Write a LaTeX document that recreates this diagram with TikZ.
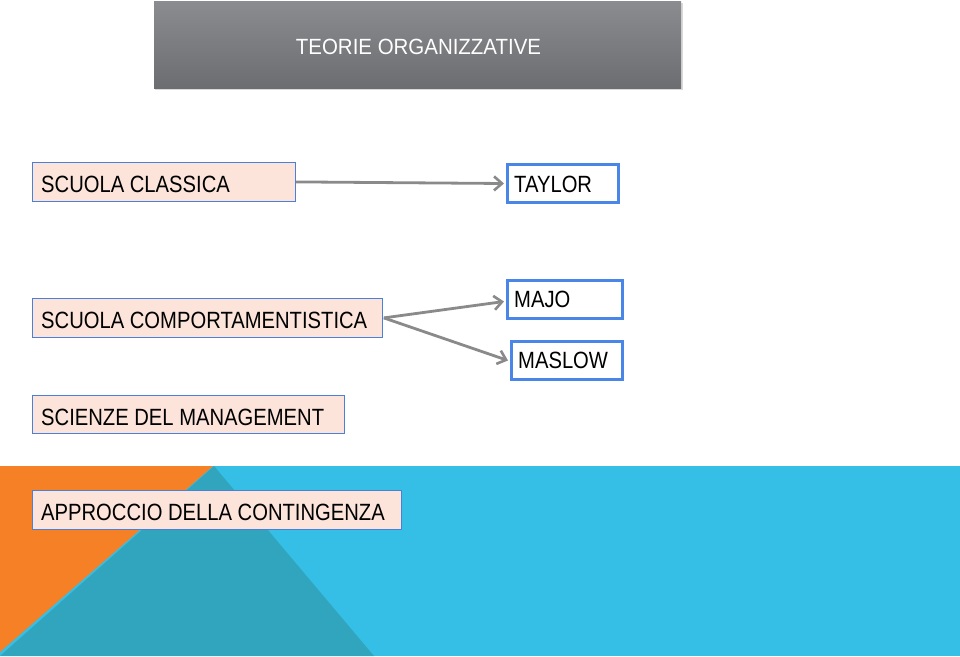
\documentclass[tikz,border=0pt]{standalone}
\usepackage{fontspec}
\setmainfont{Liberation Sans}
\newfontfamily\boxfont[FakeStretch=0.86]{Liberation Sans}
\newfontfamily\titlefont[FakeStretch=0.93]{Liberation Sans}
\usetikzlibrary{arrows.meta}
\definecolor{peach}{HTML}{FCE4DA}
\definecolor{bordblue}{HTML}{4A80D9}
\definecolor{thickblue}{HTML}{4A86E8}
\definecolor{arrgray}{HTML}{8A8A8A}
\definecolor{orangebg}{HTML}{F58025}
\definecolor{tealbg}{HTML}{31A5BD}
\definecolor{lightbg}{HTML}{35BFE6}
\definecolor{titletop}{HTML}{8B8C90}
\definecolor{titlebot}{HTML}{6C6D71}
\begin{document}
\begin{tikzpicture}[x=1pt,y=-1pt,
  school/.style={draw=bordblue,line width=0.8pt,fill=peach,anchor=north west,inner sep=0pt},
  author/.style={draw=thickblue,line width=3pt,fill=white,anchor=north west,inner sep=0pt},
  lbl/.style={anchor=base west,inner sep=0pt,font=\boxfont\fontsize{23.5}{27}\selectfont},
  conn/.style={draw=arrgray,line width=2.8pt,-{Straight Barb[length=8pt,width=14pt,line width=2.6pt]}}]
\useasboundingbox (0,0) rectangle (960,656);
% background
\fill[lightbg] (0,466) rectangle (960,656);
\fill[tealbg] (214,466) -- (374,656) -- (0,656) -- cycle;
\fill[orangebg] (0,466) -- (213,466) -- (0,652) -- cycle;
% title
\fill[black!25,opacity=0.6] (155,3) rectangle (683,90);
\shade[top color=titletop,bottom color=titlebot] (154,1) rectangle (681,88);
\node[text=white,anchor=base,inner sep=0pt,font=\titlefont\fontsize{22}{25}\selectfont] (title) at (418.5,54) {TEORIE ORGANIZZATIVE};
% schools
\node[school,minimum width=263pt,minimum height=39pt] (sc) at (32,162) {};
\node[lbl] (sct) at (41,192) {SCUOLA CLASSICA};
\node[school,minimum width=350pt,minimum height=39pt] (comp) at (32,298) {};
\node[lbl] (compt) at (41,328) {SCUOLA COMPORTAMENTISTICA};
\node[school,minimum width=312pt,minimum height=38pt] (sci) at (32,395) {};
\node[lbl] (scit) at (41,425) {SCIENZE DEL MANAGEMENT};
\node[school,minimum width=369pt,minimum height=39pt] (app) at (32,490) {};
\node[lbl] (appt) at (41,520) {APPROCCIO DELLA CONTINGENZA};
% authors
\node[author,minimum width=111pt,minimum height=38pt] (tay) at (506,163) {};
\node[lbl] (tayt) at (514,192) {TAYLOR};
\node[author,minimum width=115pt,minimum height=38pt] (majo) at (506,279) {};
\node[lbl] (majot) at (514,307.5) {MAJO};
\node[author,minimum width=111pt,minimum height=38pt] (mas) at (510,340) {};
\node[lbl] (mast) at (518,368) {MASLOW};
% connectors
\coordinate (fork) at ([xshift=1pt]comp.east);
\draw[conn] (sc.east) -- ([xshift=-2pt]tay.west);
\draw[conn] (fork) -- ([xshift=-2pt,yshift=-2pt]majo.west);
\draw[conn] (fork) -- ([xshift=-2pt]mas.west);
\end{tikzpicture}
\end{document}
